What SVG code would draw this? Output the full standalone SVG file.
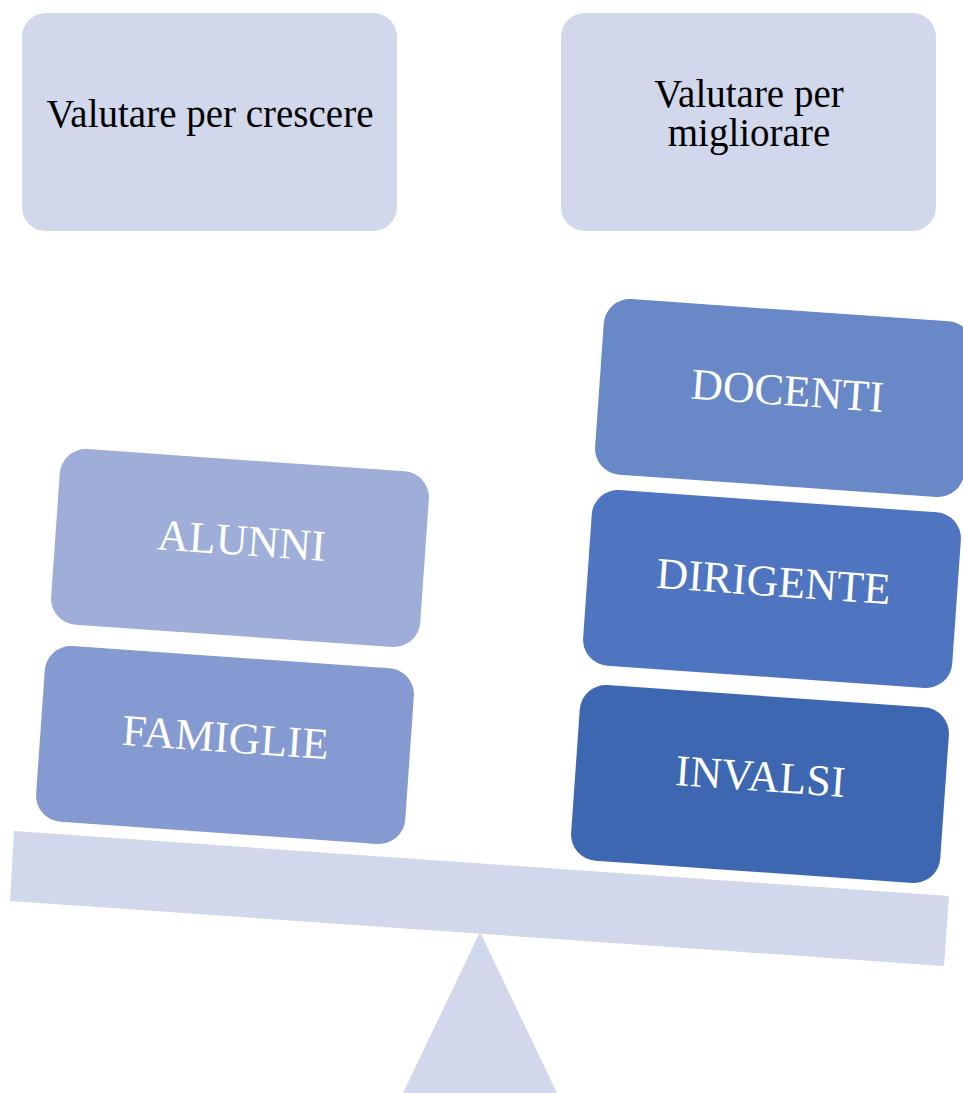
<svg xmlns="http://www.w3.org/2000/svg" width="963" height="1093" viewBox="0 0 963 1093">
<style>
.top{fill:#D1D8EB;}
.base{fill:#D1D8EB;}
.tt{font-family:"Liberation Serif","Times New Roman",serif;font-size:39px;fill:#000;text-anchor:middle;}
.lbl{font-family:"Liberation Serif","Times New Roman",serif;font-size:44px;fill:#fff;text-anchor:middle;}
</style>
<g id="scale">
<polygon class="base" points="480,932 557,1093 403,1093"/>
<polygon class="base" points="14,831 949,896 944,966 10,901"/>
</g>
<g id="node-crescere">
<rect class="top" x="22" y="13" width="375" height="218" rx="24"/>
<text class="tt" x="210" y="127">Valutare per crescere</text>
</g>
<g id="node-migliorare">
<rect class="top" x="561" y="13" width="375" height="218" rx="24"/>
<text class="tt" x="749" y="107">Valutare per</text>
<text class="tt" x="749" y="146">migliorare</text>
</g>
<g id="node-alunni" transform="translate(240,548) rotate(4)">
<rect x="-185" y="-88" width="370" height="176" rx="26" fill="#9EAED8"/>
<text class="lbl" x="1" y="7">ALUNNI</text>
</g>
<g id="node-famiglie" transform="translate(225,745) rotate(4)">
<rect x="-185" y="-88" width="370" height="176" rx="26" fill="#849AD0"/>
<text class="lbl" x="0" y="7">FAMIGLIE</text>
</g>
<g id="node-docenti" transform="translate(784,398) rotate(4)">
<rect x="-185" y="-88" width="370" height="176" rx="26" fill="#6988C7"/>
<text class="lbl" x="3" y="7">DOCENTI</text>
</g>
<g id="node-dirigente" transform="translate(772,589) rotate(4)">
<rect x="-185" y="-88" width="370" height="176" rx="26" fill="#5075C0"/>
<text class="lbl" x="1" y="7">DIRIGENTE</text>
</g>
<g id="node-invalsi" transform="translate(760,784) rotate(4)">
<rect x="-185" y="-88" width="370" height="176" rx="26" fill="#3E67B1"/>
<text class="lbl" x="0" y="7">INVALSI</text>
</g>
<g id="connectors"></g>
</svg>
